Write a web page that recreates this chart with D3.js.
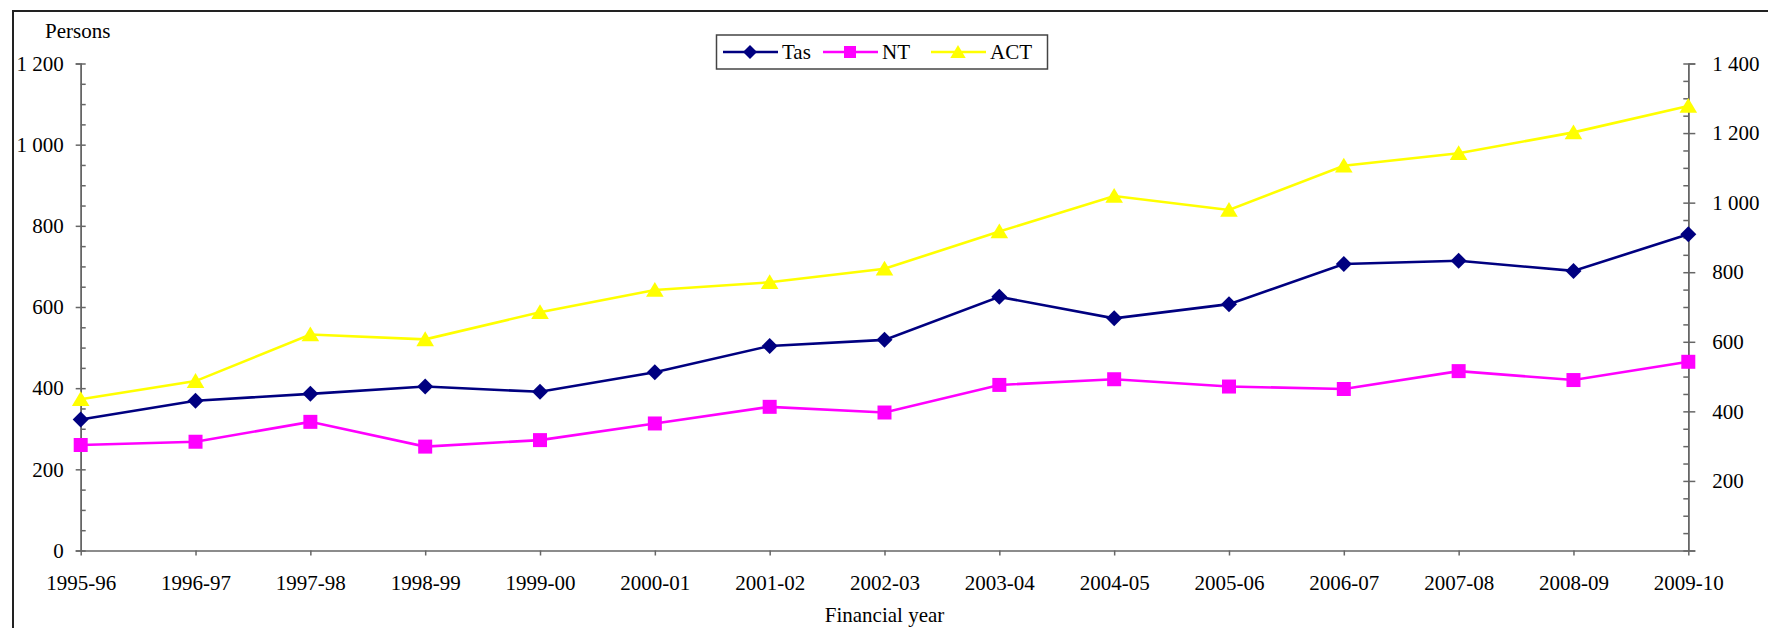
<!DOCTYPE html>
<html>
<head>
<meta charset="utf-8">
<script src="https://cdn.jsdelivr.net/npm/d3@7"></script>
<style>
  body { margin: 0; background: #fff; }
  svg { display: block; }
  text { font-family: "Liberation Serif", "Times New Roman", serif; }
</style>
</head>
<body>
<svg id="chart" width="1768" height="628"></svg>
<script>
// Chart data
var years = ["1995-96","1996-97","1997-98","1998-99","1999-00","2000-01","2001-02",
  "2002-03","2003-04","2004-05","2005-06","2006-07","2007-08","2008-09","2009-10"];
var tas = [323, 369, 386, 404, 391, 439, 504, 519, 625, 572, 607, 706, 714, 689, 779];
var nt  = [260, 268, 317, 256, 272, 313, 354, 340, 408, 422, 404, 398, 442, 420, 465];
var act = [435, 487, 621, 607, 685, 749, 771, 810, 917, 1019, 979, 1106, 1142, 1202, 1278];
var leftTicks = [0, 200, 400, 600, 800, 1000, 1200];
var rightTicks = [0, 200, 400, 600, 800, 1000, 1200, 1400];

var svg = d3.select('#chart');
var plotL = 80.7, plotR = 1688.3, plotT = 63.5, plotB = 550.5;
var FONT = "'Liberation Serif', 'Times New Roman', serif";

var x = d3.scalePoint().domain(years).range([plotL, plotR]);
var yL = d3.scaleLinear().domain([0, 1200]).range([plotB, plotT]);
var yR = d3.scaleLinear().domain([0, 1400]).range([plotB, plotT]);

var loc = d3.formatLocale({decimal: '.', thousands: ' ', grouping: [3], currency: ['', '']});
var fmt = loc.format(',d');

// frame (only top and left edges show)
svg.append('path').attr('d', 'M13,628V11H1768')
  .attr('fill', 'none').attr('stroke', '#222').attr('stroke-width', 2);

function styleAxis(g) {
  g.attr('font-family', FONT).attr('font-size', 21);
  g.selectAll('path, line').attr('stroke', '#666').attr('stroke-width', 1.5);
  g.selectAll('text').attr('fill', '#000');
}

// left axis: major ticks crossing, minors inside
svg.append('g').attr('transform', 'translate(' + plotL + ',0)')
  .call(d3.axisLeft(yL).tickValues(leftTicks).tickSize(5).tickPadding(12).tickFormat(fmt))
  .call(styleAxis);
svg.append('g').attr('transform', 'translate(' + plotL + ',0)')
  .call(d3.axisRight(yL).tickValues(d3.range(0, 1201, 50)).tickSize(5).tickFormat('').tickSizeOuter(0))
  .call(styleAxis);

// right axis
svg.append('g').attr('transform', 'translate(' + plotR + ',0)')
  .call(d3.axisRight(yR).tickValues(rightTicks).tickSize(7).tickPadding(17)
    .tickFormat(function(d) { return d === 0 ? '' : fmt(d); }))
  .call(styleAxis);
svg.append('g').attr('transform', 'translate(' + plotR + ',0)')
  .call(d3.axisLeft(yR).tickValues(d3.range(0, 1401, 50)).tickSize(5).tickFormat('').tickSizeOuter(0))
  .call(styleAxis);

// x axis
svg.append('g').attr('transform', 'translate(0,' + plotB + ')')
  .call(d3.axisBottom(x).tickSize(5).tickPadding(20).tickSizeOuter(0))
  .call(styleAxis);

// titles
svg.append('text').attr('x', 45).attr('y', 38).attr('font-family', FONT).attr('font-size', 21).text('Persons');
svg.append('text').attr('x', (plotL + plotR) / 2).attr('y', 622).attr('text-anchor', 'middle')
  .attr('font-family', FONT).attr('font-size', 21).text('Financial year');

// symbols
var diamond = { draw: function(ctx, s) { ctx.moveTo(0, -s); ctx.lineTo(s, 0); ctx.lineTo(0, s); ctx.lineTo(-s, 0); ctx.closePath(); } };
var square = { draw: function(ctx, s) { ctx.rect(-s, -s, 2 * s, 2 * s); } };
var triangle = { draw: function(ctx, s) { ctx.moveTo(0, -s); ctx.lineTo(s * 1.1, s * 0.85); ctx.lineTo(-s * 1.1, s * 0.85); ctx.closePath(); } };

var series = [
  {name: 'Tas', values: tas, color: '#000080', y: yL, sym: diamond, size: 8},
  {name: 'NT', values: nt, color: '#FF00FF', y: yL, sym: square, size: 7},
  {name: 'ACT', values: act, color: '#FFFF00', y: yR, sym: triangle, size: 8}
];

series.slice().reverse().forEach(function(s) {
  var line = d3.line().x(function(d, i) { return x(years[i]); }).y(function(d) { return s.y(d); });
  svg.append('path').datum(s.values).attr('d', line)
    .attr('fill', 'none').attr('stroke', s.color).attr('stroke-width', 2.6);
  svg.append('g').selectAll('path').data(s.values).enter().append('path')
    .attr('transform', function(d, i) { return 'translate(' + x(years[i]) + ',' + s.y(d) + ')'; })
    .attr('d', function() { var p = d3.path(); s.sym.draw(p, s.size); return p.toString(); })
    .attr('fill', s.color);
});

// legend
var lg = svg.append('g');
lg.append('rect').attr('x', 716.5).attr('y', 35).attr('width', 331).attr('height', 34)
  .attr('fill', '#fff').attr('stroke', '#444').attr('stroke-width', 1.5);
var lx = [723, 823, 931];
series.forEach(function(s, i) {
  var g = lg.append('g').attr('transform', 'translate(' + lx[i] + ',52)');
  g.append('line').attr('x1', 0).attr('x2', 55).attr('stroke', s.color).attr('stroke-width', 2.6);
  var p = d3.path(); s.sym.draw(p, s.size - 1);
  g.append('path').attr('transform', 'translate(27,0)').attr('d', p.toString()).attr('fill', s.color);
  g.append('text').attr('x', 59).attr('y', 7).attr('font-family', FONT).attr('font-size', 21).text(s.name);
});
</script>
</body>
</html>
